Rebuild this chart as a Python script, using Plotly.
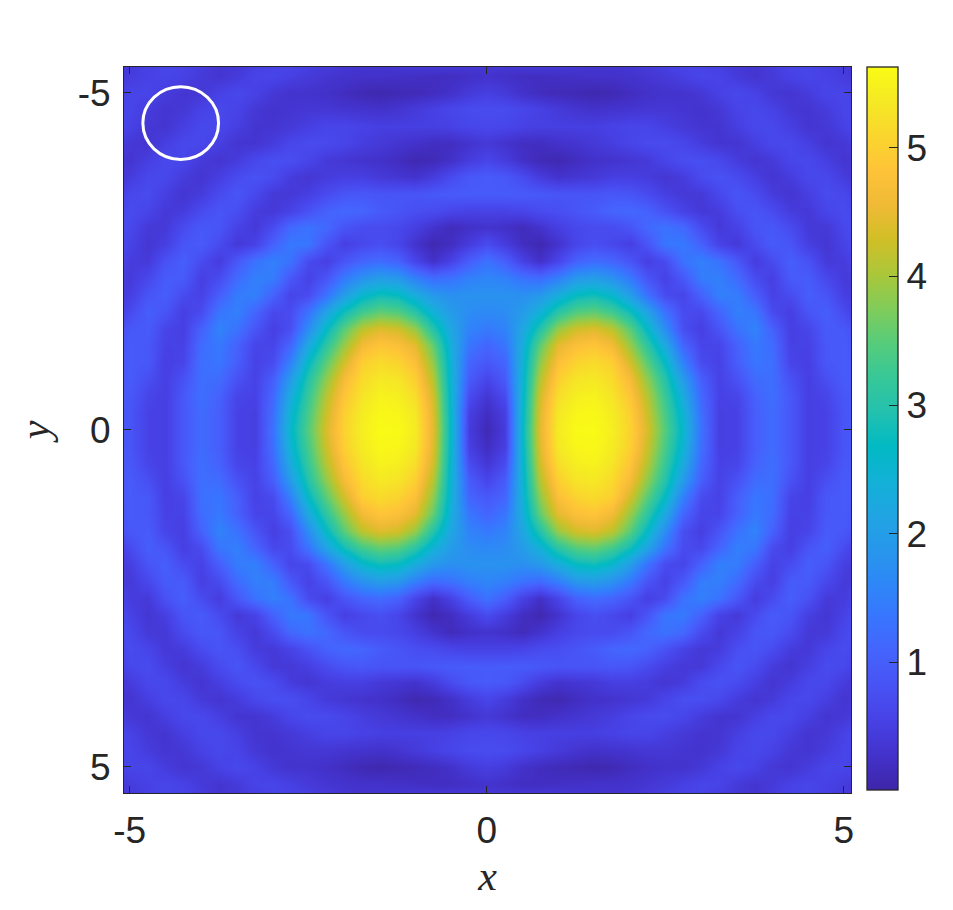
import plotly.graph_objects as go

# Quadrant readings (x >= 0, |y|), mirrored across both axes
x_half = [0, .25, .5, .75, 1, 1.25, 1.5, 1.75, 2, 2.25, 2.5, 2.75, 3, 3.25, 3.5, 3.75, 4, 4.25, 4.5, 4.75, 5, 5.1]
y_half = [0, .25, .5, .75, 1, 1.25, 1.5, 1.75, 2, 2.25, 2.5, 2.75, 3, 3.25, 3.5, 3.75, 4, 4.25, 4.5, 4.75, 5, 5.25, 5.4]
z_quadrant = [
 [0.1,0.45,2.6,4.45,5.4,5.6,5.62,5.45,5.05,4.35,3.45,2.55,1.3,0.5,0.55,1.0,1.2,0.9,0.5,0.55,0.85,0.9],
 [0.2,0.5,2.55,4.4,5.35,5.55,5.58,5.4,5.0,4.25,3.35,2.45,1.25,0.5,0.55,1.0,1.2,0.9,0.5,0.55,0.85,0.9],
 [0.35,0.7,2.5,4.3,5.2,5.45,5.5,5.3,4.85,4.1,3.2,2.25,1.15,0.55,0.6,1.05,1.25,0.9,0.5,0.6,0.9,0.9],
 [0.6,0.95,2.45,4.1,5.0,5.3,5.35,5.15,4.65,3.85,3.0,1.95,1.0,0.55,0.8,1.2,1.25,0.8,0.5,0.75,0.95,0.9],
 [0.9,1.1,2.4,3.85,4.75,5.05,5.15,5.0,4.3,3.5,2.65,1.5,0.7,0.55,1.0,1.35,1.25,0.6,0.5,0.9,0.95,0.9],
 [1.1,1.35,2.3,3.55,4.45,4.75,4.85,4.6,3.9,3.1,2.2,1.1,0.6,0.6,1.05,1.4,1.2,0.55,0.55,0.9,0.95,0.85],
 [1.4,1.55,2.15,3.0,3.9,4.3,4.4,4.15,3.5,2.65,1.7,0.75,0.5,0.85,1.3,1.55,1.05,0.5,0.6,0.95,0.9,0.8],
 [1.65,1.7,1.95,2.4,3.05,3.45,3.55,3.3,2.8,2.1,1.3,0.7,0.65,1.1,1.5,1.35,0.7,0.5,0.85,1.0,0.7,0.55],
 [1.8,1.8,1.75,1.9,2.3,2.7,2.8,2.55,2.0,1.3,0.7,0.6,1.05,1.5,1.45,1.0,0.55,0.7,1.0,0.85,0.5,0.45],
 [1.6,1.5,1.3,1.2,1.5,1.9,2.0,1.8,1.4,0.85,0.55,0.9,1.45,1.5,1.2,0.7,0.5,0.95,0.95,0.65,0.42,0.45],
 [1.3,1.0,0.55,0.25,0.6,1.05,1.2,1.1,0.85,0.5,0.7,1.3,1.5,1.3,0.9,0.45,0.7,1.0,0.8,0.42,0.45,0.55],
 [0.7,0.45,0.2,0.08,0.3,0.6,0.75,0.65,0.5,0.85,1.35,1.4,1.05,0.55,0.4,0.7,0.95,0.85,0.5,0.35,0.55,0.65],
 [0.3,0.25,0.15,0.3,0.5,0.65,0.7,0.7,0.85,1.15,1.3,1.15,0.7,0.4,0.55,0.85,0.9,0.7,0.4,0.4,0.65,0.7],
 [0.55,0.55,0.6,0.7,0.75,0.85,0.95,1.1,1.15,1.05,0.8,0.55,0.4,0.45,0.75,0.85,0.7,0.45,0.4,0.6,0.7,0.65],
 [0.95,0.95,0.95,0.9,0.85,0.85,0.85,0.9,0.85,0.7,0.5,0.4,0.4,0.65,0.85,0.7,0.45,0.33,0.5,0.7,0.65,0.55],
 [0.95,0.9,0.7,0.45,0.3,0.35,0.4,0.5,0.5,0.45,0.35,0.45,0.7,0.8,0.7,0.5,0.33,0.45,0.65,0.65,0.45,0.4],
 [0.6,0.45,0.25,0.12,0.08,0.18,0.27,0.3,0.35,0.42,0.6,0.75,0.75,0.65,0.45,0.33,0.42,0.62,0.65,0.5,0.33,0.35],
 [0.4,0.3,0.2,0.2,0.27,0.33,0.4,0.48,0.6,0.68,0.7,0.62,0.45,0.33,0.33,0.5,0.65,0.65,0.5,0.33,0.38,0.45],
 [0.65,0.62,0.55,0.5,0.5,0.5,0.5,0.55,0.6,0.6,0.5,0.4,0.33,0.33,0.5,0.65,0.65,0.5,0.33,0.38,0.55,0.6],
 [0.72,0.7,0.62,0.52,0.42,0.33,0.27,0.3,0.33,0.37,0.37,0.33,0.3,0.38,0.58,0.65,0.55,0.38,0.33,0.45,0.6,0.6],
 [0.5,0.42,0.27,0.18,0.13,0.1,0.06,0.1,0.18,0.25,0.3,0.3,0.38,0.55,0.65,0.55,0.38,0.33,0.45,0.6,0.6,0.55],
 [0.3,0.25,0.2,0.2,0.22,0.25,0.27,0.27,0.3,0.35,0.42,0.52,0.6,0.58,0.42,0.33,0.42,0.55,0.6,0.55,0.45,0.42],
 [0.38,0.38,0.38,0.38,0.38,0.36,0.33,0.33,0.35,0.42,0.5,0.58,0.58,0.5,0.38,0.33,0.45,0.58,0.6,0.52,0.42,0.38],
]
tick_vals = [-5, 0, 5]
tick_text = ["-5", "0", "5"]
cbar_ticks = [1, 2, 3, 4, 5]
z_min, z_max = 0.005, 5.63
circle_cx, circle_cy, circle_rx, circle_ry = -4.286, -4.548, 0.53, 0.54

parula = [
 (.2422,.1504,.6603),(.2647,.1978,.7952),(.2783,.2559,.8991),(.2810,.3228,.9579),
 (.2699,.3892,.9906),(.2206,.4603,.9973),(.1786,.5289,.9682),(.1540,.5902,.9218),
 (.1248,.6459,.8883),(.0689,.6948,.8394),(.0067,.7312,.7660),(.1408,.7584,.6842),
 (.2161,.7843,.5923),(.3406,.8008,.4789),(.5044,.7993,.3480),(.6720,.7793,.2227),
 (.8203,.7498,.1535),(.9393,.7288,.2100),(.9970,.7659,.2199),(.9786,.8386,.1766),
 (.9597,.9135,.1423),(.9769,.9839,.0805),
]
colorscale = [[i / (len(parula) - 1), "rgb(%d,%d,%d)" % tuple(round(c * 255) for c in p)]
              for i, p in enumerate(parula)]

x = [-v for v in reversed(x_half[1:])] + x_half
y = [-v for v in reversed(y_half[1:])] + y_half
rows = [[*reversed(r[1:]), *r] for r in z_quadrant]
z = [*reversed(rows[1:]), *rows]

PAGE = 8          # default page margin of the html body
W, H = 945, 902   # figure size, leaves the page at 953x910 with no scrollbars
M = 30
INK = "#262626"

def fx(px):
    return (px - PAGE - M) / (W - 2 * M)

def fy(py):
    return 1 - (py - PAGE - M) / (H - 2 * M)

fig = go.Figure(go.Heatmap(
    x=x, y=y, z=z, zmin=z_min, zmax=z_max, zsmooth="best", colorscale=colorscale,
    colorbar=dict(
        thickness=31, thicknessmode="pixels", len=723, lenmode="pixels",
        x=fx(867), xanchor="left", xpad=0, y=fy(67), yanchor="top", ypad=0,
        tickvals=cbar_ticks, ticks="inside", ticklen=9, tickcolor=INK, tickwidth=1,
        outlinecolor=INK, outlinewidth=1.3, tickfont=dict(family="Liberation Sans", size=37, color=INK),
    ),
))
axis_common = dict(
    tickvals=tick_vals, ticktext=tick_text, ticks="inside", ticklen=7, tickcolor=INK, tickwidth=1,
    showline=True, mirror="ticks", linecolor=INK, linewidth=1, showgrid=False, zeroline=False,
    tickfont=dict(family="Liberation Sans", size=37, color=INK), ticklabelstandoff=5,
)
title_font = dict(family="Liberation Serif", size=42, color=INK)
fig.update_layout(
    width=W, height=H, margin=dict(l=M, r=M, t=M, b=M), paper_bgcolor="white", plot_bgcolor="white",
    xaxis=dict(domain=[fx(124), fx(851)], range=[-5.08, 5.1],
               title=dict(text="<i>x</i>", font=title_font, standoff=10), **axis_common),
    yaxis=dict(domain=[fy(793), fy(67)], range=[5.39, -5.38],
               title=dict(text="<i>y</i>", font=title_font, standoff=14), **axis_common),
    shapes=[dict(type="circle", xref="x", yref="y",
                 x0=circle_cx - circle_rx, x1=circle_cx + circle_rx,
                 y0=circle_cy - circle_ry, y1=circle_cy + circle_ry,
                 line=dict(color="white", width=3))],
)
fig.write_html("out.html")
